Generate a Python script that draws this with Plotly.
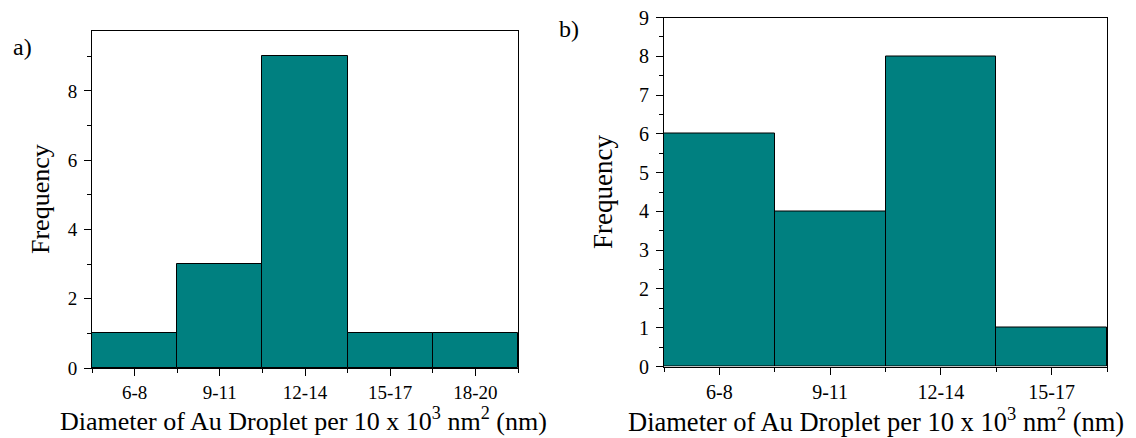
import plotly.graph_objects as go

# ---- data ----
cats_a = ["6-8", "9-11", "12-14", "15-17", "18-20"]
freq_a = [1, 3, 9, 1, 1]
cats_b = ["6-8", "9-11", "12-14", "15-17"]
freq_b = [6, 4, 8, 1]
xtitle = "Diameter of Au Droplet per 10 x 10<sup>3</sup> nm<sup>2</sup> (nm)"
ytitle = "Frequency"

W, H = 1136, 438
def px(x):
    return x / W
def py(y):
    return 1 - y / H

TEAL = "#008080"
FONT = "Liberation Serif, Times New Roman, serif"

fig = go.Figure()
fig.add_trace(go.Bar(x=list(range(len(cats_a))), y=freq_a, width=1,
                     marker=dict(color=TEAL, line=dict(color="black", width=1)),
                     xaxis="x", yaxis="y", showlegend=False))
fig.add_trace(go.Bar(x=list(range(len(cats_b))), y=freq_b, width=1,
                     marker=dict(color=TEAL, line=dict(color="black", width=1)),
                     xaxis="x2", yaxis="y2", showlegend=False))

def xax(cats, dom, anchor, fs):
    n = len(cats)
    return dict(domain=dom, anchor=anchor, range=[-0.5, n - 0.5], automargin=False,
                tickvals=list(range(n)), ticktext=cats,
                ticks="outside", ticklen=7, tickwidth=1, tickcolor="black",
                minor=dict(tickvals=[i - 0.5 for i in range(n + 1)], ticks="outside",
                           ticklen=4, tickwidth=1, tickcolor="black"),
                showline=True, linecolor="black", linewidth=1, mirror=True,
                showgrid=False, zeroline=False,
                tickfont=dict(family=FONT, size=fs, color="black"))

def yax(dom, anchor, rng, dtick, minor_dtick, fs):
    return dict(domain=dom, anchor=anchor, range=rng, dtick=dtick, tick0=0, automargin=False,
                ticks="outside", ticklen=7, tickwidth=1, tickcolor="black",
                minor=dict(dtick=minor_dtick, tick0=0, ticks="outside",
                           ticklen=4, tickwidth=1, tickcolor="black"),
                showline=True, linecolor="black", linewidth=1, mirror=True,
                showgrid=False, zeroline=False, ticklabelstandoff=3,
                tickfont=dict(family=FONT, size=fs, color="black"))

fig.update_layout(
    width=W, height=H,
    margin=dict(l=0, r=0, t=0, b=0, pad=0, autoexpand=False),
    paper_bgcolor="white", plot_bgcolor="white",
    bargap=0,
    xaxis=xax(cats_a, [px(92), px(518)], "y", 19),
    yaxis=yax([py(368), py(31)], "x", [0, 9.73], 2, 1, 19),
    xaxis2=xax(cats_b, [px(664), px(1107)], "y2", 20),
    yaxis2=yax([py(366.5), py(17.5)], "x2", [0, 9], 1, 0.5, 20),
    font=dict(family=FONT, color="black"),
)

anns = [
    dict(text=xtitle, x=px(303), y=py(419), size=26, angle=0),
    dict(text=xtitle, x=px(876), y=py(420), size=26.5, angle=0),
    dict(text=ytitle, x=px(40), y=py(199), size=26, angle=-90),
    dict(text=ytitle, x=px(603), y=py(192), size=27, angle=-90),
    dict(text="a)", x=px(22), y=py(47), size=24, angle=0),
    dict(text="b)", x=px(569), y=py(29), size=24, angle=0),
]
for a in anns:
    fig.add_annotation(text=a["text"], x=a["x"], y=a["y"], xref="paper", yref="paper",
                       xanchor="center", yanchor="middle", showarrow=False,
                       textangle=a["angle"],
                       font=dict(family=FONT, size=a["size"], color="black"))

fig.write_html("out.html", config={"displayModeBar": False},
               post_script="document.body.style.margin='0';document.body.style.overflow='hidden';")
